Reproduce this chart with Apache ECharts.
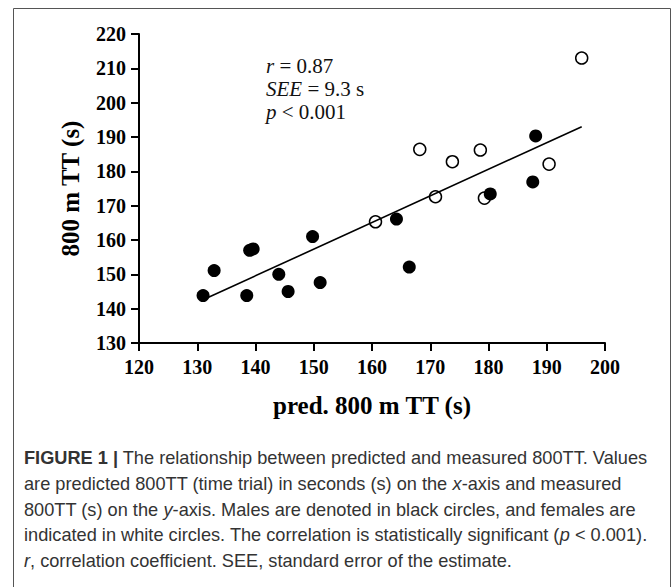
<!DOCTYPE html>
<html>
<head>
<meta charset="utf-8">
<script src="https://cdn.jsdelivr.net/npm/echarts@6/dist/echarts.min.js"></script>
<style>
html,body{margin:0;padding:0;background:#fff;}
#c{width:672px;height:587px;}
</style>
</head>
<body>
<div id="c"></div>
<script>
// ---- data ----
const malePred = [131.0, 132.9, 138.5, 139.0, 139.6, 144.0, 145.6, 149.8, 151.1, 164.2, 166.4, 180.3, 187.6, 188.1];
const maleMeas = [143.8, 151.1, 143.8, 157.0, 157.4, 150.0, 145.0, 161.0, 147.6, 166.1, 152.1, 173.4, 176.9, 190.3];
const femalePred = [160.6, 168.2, 170.9, 173.8, 178.6, 179.3, 190.4, 196.0];
const femaleMeas = [165.3, 186.4, 172.6, 182.8, 186.2, 172.2, 182.1, 213.0];
const fitX = [131.0, 196.0];
const fitY = [142.6, 193.0];
const xTicks = [120, 130, 140, 150, 160, 170, 180, 190, 200];
const yTicks = [130, 140, 150, 160, 170, 180, 190, 200, 210, 220];
const statsLines = ['{i|r} = 0.87', '{i|SEE} = 9.3 s', '{i|p} < 0.001'];
const captionLines = [
  '{b|FIGURE 1 |} The relationship between predicted and measured 800TT. Values',
  'are predicted 800TT (time trial) in seconds (s) on the {i|x}-axis and measured',
  '800TT (s) on the {i|y}-axis. Males are denoted in black circles, and females are',
  'indicated in white circles. The correlation is statistically significant ({i|p} < 0.001).',
  '{i|r}, correlation coefficient. SEE, standard error of the estimate.'
];

const serif = '"Liberation Serif", "Times New Roman", serif';
const sans = '"Liberation Sans", Arial, sans-serif';
const capSize = 18.2;

const chart = echarts.init(document.getElementById('c'), null, {renderer: 'svg'});

const graphics = [{
  type: 'rect', silent: true, z: -1,
  shape: {x: 13.5, y: 8.5, width: 657, height: 600},
  style: {fill: 'none', stroke: '#555', lineWidth: 1}
}];
statsLines.forEach((t, i) => {
  graphics.push({
    type: 'text', left: 266, top: 55 + i * 23,
    style: {
      text: t, font: '21px ' + serif, fill: '#111',
      rich: {i: {fontFamily: serif, fontSize: 21, fontStyle: 'italic', fill: '#111'}}
    }
  });
});
captionLines.forEach((t, i) => {
  graphics.push({
    type: 'text', left: 24, top: 449 + i * 25.8,
    style: {
      text: t, font: capSize + 'px ' + sans, fill: '#333',
      rich: {
        b: {fontFamily: sans, fontSize: capSize, fontWeight: 'bold', fill: '#333'},
        i: {fontFamily: sans, fontSize: capSize, fontStyle: 'italic', fill: '#333'}
      }
    }
  });
});

const axisCommon = {
  type: 'value',
  axisLine: {show: true, onZero: false, lineStyle: {color: '#000', width: 2}},
  axisTick: {show: true, length: 8, lineStyle: {color: '#000', width: 2}},
  splitLine: {show: false},
  nameTextStyle: {fontFamily: serif, fontWeight: 'bold', fontSize: 25, color: '#000'},
  axisLabel: {fontFamily: serif, fontWeight: 'bold', fontSize: 20, color: '#000'}
};

chart.setOption({
  animation: false,
  backgroundColor: '#fff',
  grid: {left: 139, right: 67, top: 34, bottom: 244, outerBoundsMode: 'none', containLabel: false},
  xAxis: Object.assign({}, axisCommon, {
    min: xTicks[0], max: xTicks[xTicks.length - 1], interval: 10,
    name: 'pred. 800 m TT (s)', nameLocation: 'middle', nameGap: 50,
    axisLabel: Object.assign({}, axisCommon.axisLabel, {margin: 14})
  }),
  yAxis: Object.assign({}, axisCommon, {
    min: yTicks[0], max: yTicks[yTicks.length - 1], interval: 10,
    name: '800 m TT (s)', nameLocation: 'middle', nameGap: 56, nameRotate: 90,
    axisLabel: Object.assign({}, axisCommon.axisLabel, {margin: 13})
  }),
  series: [
    {
      type: 'scatter', name: 'female', z: 2,
      data: femalePred.map((x, i) => [x, femaleMeas[i]]),
      symbol: 'circle', symbolSize: 12,
      itemStyle: {color: '#fff', borderColor: '#000', borderWidth: 1.5, opacity: 1}
    },
    {
      type: 'scatter', name: 'male', z: 3,
      data: malePred.map((x, i) => [x, maleMeas[i]]),
      symbol: 'circle', symbolSize: 13,
      itemStyle: {color: '#000', opacity: 1}
    },
    {
      type: 'line', name: 'fit', z: 4,
      data: fitX.map((x, i) => [x, fitY[i]]),
      showSymbol: false, symbol: 'none',
      lineStyle: {color: '#000', width: 1.6}
    }
  ],
  graphic: graphics
});
</script>
</body>
</html>
